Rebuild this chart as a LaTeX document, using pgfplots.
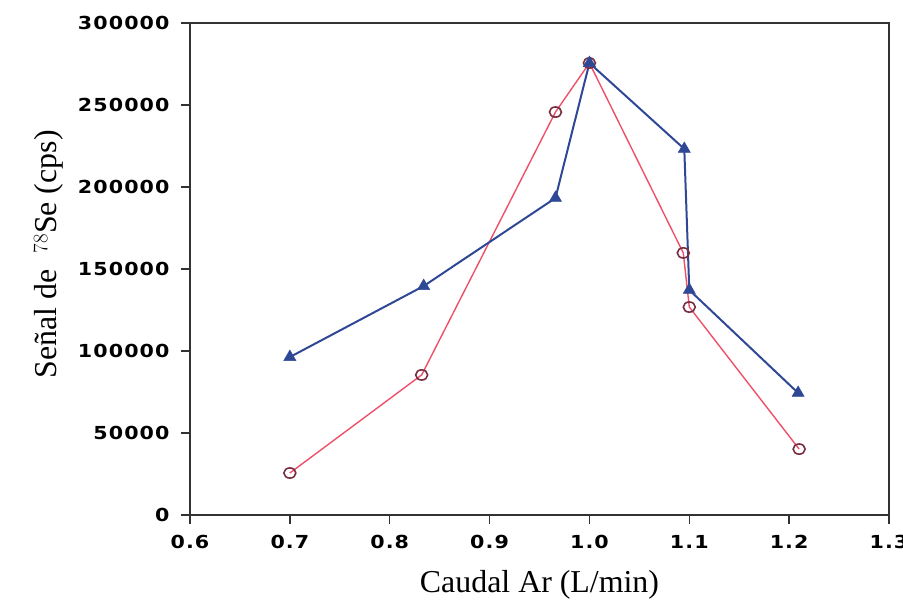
\documentclass[border=0pt]{standalone}
\usepackage{pgfplots}
\pgfplotsset{compat=1.18}
\usepackage{fontspec}
\setmainfont{Liberation Serif}
\newfontfamily\tickfont[FakeStretch=1.15, LetterSpace=6]{DejaVu Sans Bold}
\definecolor{redline}{RGB}{238,80,105}
\definecolor{blueline}{RGB}{47,72,150}
\definecolor{circedge}{RGB}{120,45,65}
\definecolor{axcol}{RGB}{50,50,50}
\begin{document}
\begin{tikzpicture}[x=1bp,y=1bp]
\path[use as bounding box] (-190,-88) rectangle (713,515);
\begin{axis}[
  at={(0,0)}, anchor=south west,
  scale only axis, width=699bp, height=492bp,
  xmin=0.6, xmax=1.3, ymin=0, ymax=300000,
  xtick={0.6,0.7,...,1.3},
  ytick={0,50000,100000,150000,200000,250000,300000},
  scaled y ticks=false,
  tick align=outside,
  xtick pos=bottom, ytick pos=left,
  major tick length=9bp,
  axis line style={color=axcol, line width=1.4bp},
  every tick/.style={color=axcol, line width=1.4bp},
  /pgf/number format/assume math mode=true,
  xticklabel style={font=\fontsize{18}{20}\tickfont, yshift=-8bp, /pgf/number format/.cd, fixed, fixed zerofill, precision=1},
  yticklabel style={font=\fontsize{18}{20}\tickfont, xshift=-8bp, /pgf/number format/.cd, fixed, 1000 sep={}},
  xlabel={Caudal Ar (L/min)},
  ylabel={Señal de\ \ $^{78}$Se (cps)},
  xlabel style={font=\fontsize{32}{36}\selectfont, yshift=-14bp},
  ylabel style={font=\fontsize{32}{36}\selectfont, at={(ticklabel cs:0.53)}, yshift=8bp},
]
\addplot[color=redline, line width=1.4bp, mark=o, mark size=6bp,
  mark options={draw=circedge, fill=white, line width=1.6bp, yscale=0.85}]
  coordinates {
  (0.700,25600) (0.832,85400) (0.966,245700) (1.000,275600)
  (1.094,159800) (1.100,126800) (1.210,40200)
};
\addplot[color=blueline, line width=2bp, mark=triangle*, mark size=7bp,
  mark options={fill=blueline, draw=blueline, line width=0.5bp}]
  coordinates {
  (0.700,96300) (0.834,139600) (0.966,193300) (1.000,275600)
  (1.095,223200) (1.100,137200) (1.209,74400)
};
\end{axis}
\end{tikzpicture}
\end{document}
